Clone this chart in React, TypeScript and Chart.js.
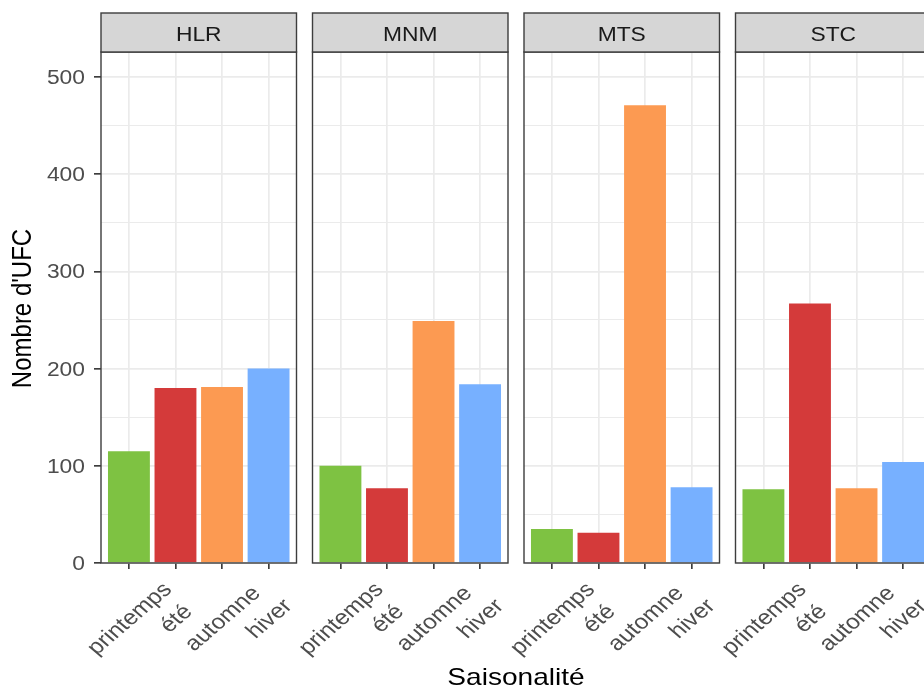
import React, { useEffect, useRef } from "react";
import { Chart, registerables } from "chart.js";

Chart.register(...registerables);

// ---------- data ----------
const sites = ["HLR", "MNM", "MTS", "STC"];
const seasons = ["printemps", "été", "automne", "hiver"];
const hlrValues = [115, 180, 181, 200];
const mnmValues = [100, 77, 249, 184];
const mtsValues = [35, 31, 471, 78];
const stcValues = [76, 267, 77, 104];
const valuesBySite = [hlrValues, mnmValues, mtsValues, stcValues];
const seasonColors = ["#7EC242", "#D43A3A", "#FC9A52", "#77B0FF"];
const yTickLabels = [0, 100, 200, 300, 400, 500];
const yAxisMax = 525.7;
const xTitle = "Saisonalité";
const yTitle = "Nombre d'UFC";

// ---------- layout ----------
const W = 924;
const H = 688;
const CW = 940;
const PANEL_LEFT0 = 101;
const PANEL_STEP = 211.5;
const PANEL_W = 195.5;
const PANEL_TOP = 52;
const PANEL_BOTTOM = 563;
const STRIP_TOP = 13;
const SX = 1.17;
const FONT = "'Liberation Sans', Arial, Helvetica, sans-serif";

Chart.defaults.font.family = FONT;

function drawText(
  ctx: CanvasRenderingContext2D,
  text: string,
  x: number,
  y: number,
  size: number,
  color: string,
  angle = 0,
  align: CanvasTextAlign = "center",
  baseline: CanvasTextBaseline = "middle"
) {
  ctx.save();
  ctx.translate(x, y);
  ctx.scale(SX, 1);
  ctx.rotate(angle);
  ctx.font = `${size}px ${FONT}`;
  ctx.fillStyle = color;
  ctx.textAlign = align;
  ctx.textBaseline = baseline;
  ctx.fillText(text, 0, 0);
  ctx.restore();
}

function makeConfig(index: number): any {
  const left = PANEL_LEFT0 + index * PANEL_STEP;
  const right = left + PANEL_W;
  const values = valuesBySite[index];
  const isFirst = index === 0;

  const decor = {
    id: "facetDecor" + index,
    afterDraw(chart: any) {
      const ctx: CanvasRenderingContext2D = chart.ctx;
      const area = chart.chartArea;
      const xs = chart.scales.x;
      const ys = chart.scales.y;
      ctx.save();
      ctx.strokeStyle = "#3d3d3d";
      ctx.lineWidth = 1.4;
      ctx.strokeRect(area.left, area.top, area.right - area.left, area.bottom - area.top);
      ctx.fillStyle = "#D6D6D6";
      ctx.fillRect(area.left, STRIP_TOP, area.right - area.left, area.top - STRIP_TOP);
      ctx.strokeRect(area.left, STRIP_TOP, area.right - area.left, area.top - STRIP_TOP);
      ctx.restore();
      drawText(ctx, sites[index], (area.left + area.right) / 2, 40.5, 19.5, "#1A1A1A", 0, "center", "alphabetic");
      seasons.forEach((s, i) => {
        const px = xs.getPixelForValue(i);
        drawText(ctx, s, px + 1, 619, 21, "#4D4D4D", -Math.PI / 4, "center", "middle");
      });
      if (isFirst) {
        yTickLabels.forEach((v) => {
          const py = ys.getPixelForValue(v);
          drawText(ctx, String(v), 85, py + 7, 19.5, "#4D4D4D", 0, "right", "alphabetic");
        });
        drawText(ctx, yTitle, 23, (area.top + area.bottom) / 2 + 1, 24, "#000000", -Math.PI / 2, "center", "middle");
        drawText(ctx, xTitle, 516, 685, 24, "#000000", 0, "center", "alphabetic");
      }
    },
  };

  return {
    type: "bar",
    data: {
      datasets: [
        {
          label: sites[index],
          data: seasons.map((s, i) => ({ x: i, y: values[i] })),
          backgroundColor: seasonColors,
          borderWidth: 0,
          barPercentage: 0.9,
          categoryPercentage: 1.0,
        },
      ],
    },
    options: {
      responsive: false,
      animation: false,
      events: [],
      layout: {
        padding: { left: left, right: CW - right, top: PANEL_TOP, bottom: H - PANEL_BOTTOM },
      },
      plugins: { legend: { display: false }, tooltip: { enabled: false } },
      scales: {
        x: {
          type: "linear",
          min: -0.6,
          max: 3.6,
          offset: false,
          afterFit: (s: any) => {
            s.height = 0;
          },
          border: { display: false },
          ticks: { display: false, stepSize: 1, includeBounds: false },
          grid: {
            offset: false,
            color: "#EBEBEB",
            lineWidth: 1.7,
            drawTicks: true,
            tickLength: 6,
            tickColor: "#333333",
            tickWidth: 1.6,
          },
        },
        y: {
          type: "linear",
          min: 0,
          max: yAxisMax,
          afterFit: (s: any) => {
            s.width = 0;
          },
          border: { display: false },
          ticks: { display: false, stepSize: 50, includeBounds: false },
          grid: {
            color: "#EBEBEB",
            lineWidth: (c: any) => (c.tick && c.tick.value % 100 === 0 ? 1.7 : 1.1),
            drawTicks: isFirst,
            tickLength: 7,
            tickColor: (c: any) => (c.tick && c.tick.value % 100 === 0 ? "#333333" : "rgba(0,0,0,0)"),
            tickWidth: 1.6,
          },
        },
      },
    },
    plugins: [decor],
  };
}

function Panel({ index }: { index: number }) {
  const ref = useRef<HTMLCanvasElement>(null);
  useEffect(() => {
    const chart = new Chart(ref.current as HTMLCanvasElement, makeConfig(index));
    return () => chart.destroy();
  }, [index]);
  return (
    <canvas
      ref={ref}
      width={CW}
      height={H}
      style={{ position: "absolute", left: 0, top: 0, width: CW, height: H }}
    />
  );
}

export default function App() {
  return (
    <div
      style={{
        position: "fixed",
        left: 0,
        top: 0,
        width: W,
        height: H,
        overflow: "hidden",
        background: "#FFFFFF",
      }}
    >
      {sites.map((s, i) => (
        <Panel key={s} index={i} />
      ))}
    </div>
  );
}
